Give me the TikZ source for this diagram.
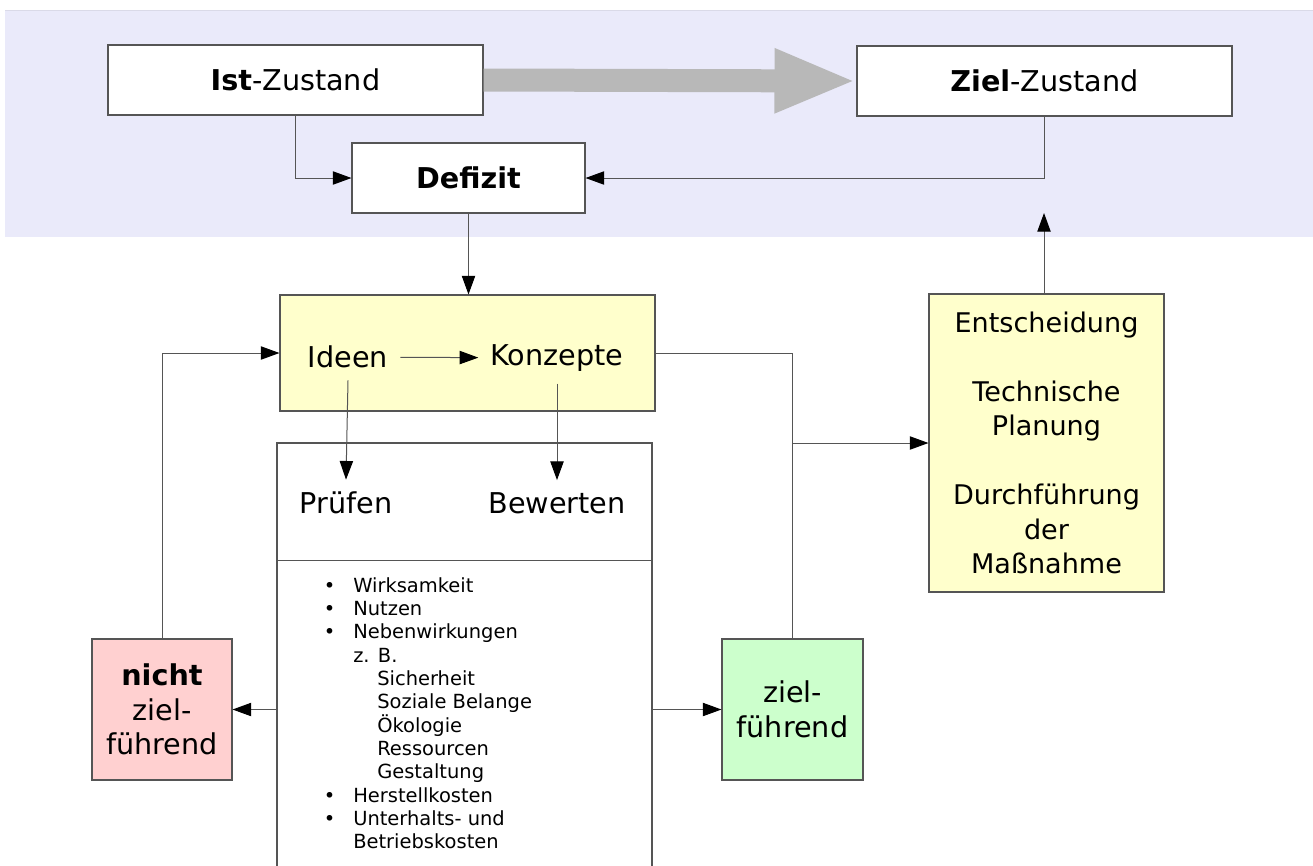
\documentclass[tikz,border=0pt]{standalone}
\usepackage{fontspec}
\setmainfont{DejaVu Sans}
\usepackage{tikz}
\usetikzlibrary{arrows.meta, positioning, calc}
\definecolor{band-lilac}{HTML}{EAEAFA}
\definecolor{note-yellow}{HTML}{FFFFCC}
\definecolor{bad-red}{HTML}{FFD0D0}
\definecolor{good-green}{HTML}{CCFFCC}
\definecolor{big-gray}{HTML}{B8B8B8}
\definecolor{line-gray}{HTML}{555555}
\newcommand{\pxu}{0.75pt}
\newcommand{\itembul}{\llap{\textbullet\hspace{13.5pt}}}

\begin{document}
\begin{tikzpicture}[
    x=0.75pt, y=-0.75pt,
    box/.style={draw=line-gray, line width=0.8pt, fill=white, inner sep=0pt, align=center,
                font=\fontsize{21.5}{26}\selectfont},
    label/.style={inner sep=9pt, font=\fontsize{21.5}{26}\selectfont},
    arrow/.style={-{Triangle[length=14pt, width=10pt, color=black]}, draw=line-gray, line width=0.75pt}
]
    \useasboundingbox (0,0) rectangle (1313,865);
    % upper band
    \fill[band-lilac] (5,10) rectangle (1313,237);
    \draw[band-lilac!85!gray, line width=0.6pt] (5,10) -- (1313,10);

    \node (ist) [box, minimum width=375*\pxu, minimum height=70*\pxu] at (295.5,80) {\textbf{Ist}-Zustand};
    \node (ziel) [box, minimum width=375*\pxu, minimum height=70*\pxu] at (1044.5,81) {\textbf{Ziel}-Zustand};
    \node (defizit) [box, minimum width=233*\pxu, minimum height=70*\pxu] at (468.5,178) {\textbf{Defizit}};

    \draw [-{Triangle[length=61.5pt, width=44pt]}, big-gray, line width=17.25pt] (ist.east) -- (ziel.west);
    \draw [arrow] (ist.south) |- (defizit.west);
    \draw [arrow] (ziel.south) |- (defizit.east);

    % ideas and evaluation
    \node (ideasbox) [box, fill=note-yellow, minimum width=375*\pxu, minimum height=116*\pxu] at (467.5,353) {};
    \node (ideen) [label] at (348,357) {Ideen};
    \node (konzepte) [label] at (557,358) {Konzepte};
    \node (evalbox) [box, minimum width=375*\pxu, minimum height=440*\pxu] at (464.5,663) {};
    \node (pruefen) [label] at (346,503) {Prüfen};
    \node (bewerten) [label] at (557,503) {Bewerten};
    \draw [line-gray, line width=0.75pt] (evalbox.west |- 0,560) -- (evalbox.east |- 0,560);
    \node (criteria) [anchor=north west, inner sep=0pt, align=left,
        font=\fontsize{14.6}{17.5}\selectfont] at (353,577) {%
        \itembul Wirksamkeit\\
        \itembul Nutzen\\
        \itembul Nebenwirkungen\\
        z. B.\\
        \hspace*{18pt}Sicherheit\\
        \hspace*{18pt}Soziale Belange\\
        \hspace*{18pt}Ökologie\\
        \hspace*{18pt}Ressourcen\\
        \hspace*{18pt}Gestaltung\\
        \itembul Herstellkosten\\
        \itembul Unterhalts- und\\
        Betriebskosten};

    \draw [arrow] (defizit.south) -- (defizit.south |- ideasbox.north);
    \draw [arrow] (ideen) -- (konzepte);
    \draw [arrow] (ideen.south) -- (pruefen.north);
    \draw [arrow] (konzepte.south) -- (bewerten.north);

    % results
    \node (nicht) [box, fill=bad-red, minimum width=140*\pxu, minimum height=141*\pxu] at (162,709.5) {\textbf{nicht}\\ziel-\\führend};
    \node (zielf) [box, fill=good-green, minimum width=141*\pxu, minimum height=141*\pxu] at (792.5,709.5) {ziel-\\führend};
    \node (decide) [box, fill=note-yellow, minimum width=235*\pxu, minimum height=298*\pxu,
        font=\fontsize{20.3}{25.9}\selectfont] at (1046.5,443)
        {Entscheidung\\[25.9pt]Technische\\Planung\\[25.9pt]Durchführung\\der\\Maßnahme};

    \draw [arrow] (evalbox.west |- nicht.east) -- (nicht.east);
    \draw [arrow] (evalbox.east |- zielf.west) -- (zielf.west);
    \draw [arrow] (nicht.north) |- (ideasbox.west);
    \draw [line-gray, line width=0.75pt] (ideasbox.east) -| (zielf.north);
    \coordinate (junction) at (zielf.north |- decide.west);
    \draw [arrow] (junction) -- (decide.west);
    \coordinate (goal) at (1044,213);
    \draw [arrow] (decide.north -| goal) -- (goal);
\end{tikzpicture}
\end{document}
